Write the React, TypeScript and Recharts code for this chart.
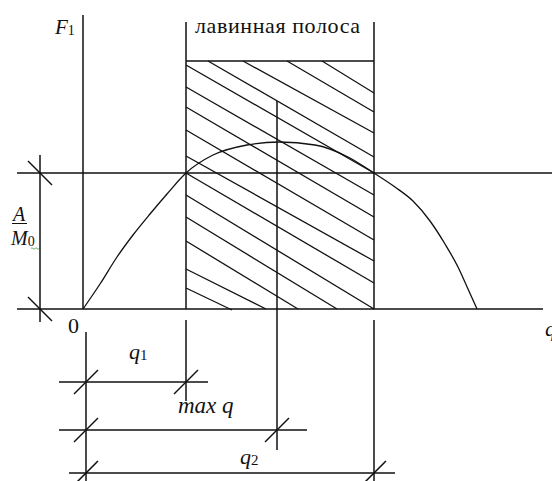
import React from 'react';
import { ComposedChart, Line, XAxis, YAxis, ReferenceLine, ReferenceDot } from 'recharts';

// units: q along the horizontal axis, F along the vertical one (0 at the origin)
const curveQ = [0, 1.7, 3.4, 5.0, 6.7, 8.4, 10.3, 13.0, 16.4, 19.6, 23.2, 26.5, 29.1, 31.2, 33.0, 34.7, 36.2, 37.5, 38.5, 39.4];
const curveF = [0, 2.5, 5.2, 7.4, 9.5, 11.5, 13.6, 15.4, 16.4, 16.7, 16.4, 15.2, 13.6, 12.2, 10.8, 8.8, 6.5, 4.2, 2.0, 0];

const q1 = 10.3;
const qMax = 19.4;
const q2 = 29.1;
const levelA = 13.6; // A / M0
const bandTop = 24.8;
const bandTitle = 'лавинная полоса';
const qLabels = ['q', '1', 'max q', '2'];

// hatching inside the avalanche band: start / end points [q, F]
const hatchFrom = [
  [23.9, 24.8], [20.4, 24.8], [16.0, 24.8], [12.5, 24.8],
  [10.3, 24.4], [10.3, 22.2], [10.3, 20.2], [10.3, 17.9], [10.3, 15.3],
  [10.3, 13.6], [10.3, 11.4], [10.3, 9.2], [10.3, 6.8], [10.3, 4.0], [10.3, 2.1],
];
const hatchTo = [
  [29.1, 21.6], [29.1, 19.7], [29.1, 17.6], [29.1, 15.2],
  [29.1, 13.6], [29.1, 11.4], [29.1, 9.2], [29.1, 6.9], [29.1, 4.8],
  [29.1, 2.6], [29.1, 0], [25.4, 0], [21.5, 0], [18.3, 0], [14.9, -0.1],
];

// dimension lines under the axis: level, from, to, measured value
const dimLevel = [-7.3, -12.1, -16.4];
const dimFrom = [-2.4, -2.4, -1.4];
const dimTo = [12.5, 22.4, 31.2];
const dimValue = [q1, qMax, q2];
const dimZero = 0.3;

const curveData = curveQ.map((q, i) => ({ q, F: curveF[i] }));

const INK = '#111';
const SERIF = 'Liberation Serif';
const TICK = 12;

const seg = (x1: number, y1: number, x2: number, y2: number, key: string, w = 1.5) => (
  <ReferenceLine
    key={key}
    segment={[{ x: x1, y: y1 }, { x: x2, y: y2 }]}
    stroke={INK}
    strokeWidth={w}
    ifOverflow="visible"
  />
);

const slash = (dir: number) => (p: any) => (
  <line
    x1={p.cx - TICK}
    y1={p.cy + dir * TICK}
    x2={p.cx + TICK}
    y2={p.cy - dir * TICK}
    stroke={INK}
    strokeWidth={1.5}
  />
);

const text = (render: (x: number, y: number) => React.ReactElement) => (p: any) => (
  <g style={{ fontFamily: SERIF }}>{render(p.cx, p.cy)}</g>
);

export default function App() {
  return (
    <div style={{ position: 'absolute', left: 0, top: 0, width: 552, height: 481, background: '#fff', fontFamily: SERIF }}>
      <ComposedChart width={552} height={481} data={curveData} margin={{ top: 0, right: 0, bottom: 0, left: 0 }}>
        <XAxis dataKey="q" type="number" domain={[-8.3, 46.9]} hide allowDataOverflow />
        <YAxis type="number" domain={[-17.2, 30.9]} hide allowDataOverflow />

        {/* axes and the A/M0 level */}
        {seg(0, 0, 0, 29.4, 'fAxis')}
        {seg(-6.6, 0, 46.0, 0, 'qAxis')}
        {seg(-6.6, levelA, 46.9, levelA, 'level')}
        {seg(-4.3, 15.4, -4.3, -1.3, 'dimA')}

        {/* avalanche band */}
        {seg(q1, 28.7, q1, 0, 'bandL')}
        {seg(q2, 28.7, q2, 0, 'bandR')}
        {seg(q1, bandTop, q2, bandTop, 'bandTop')}
        {seg(qMax, 20.8, qMax, -14.1, 'maxLine')}
        {hatchFrom.map((a, i) => seg(a[0], a[1], hatchTo[i][0], hatchTo[i][1], 'h' + i, 1.3))}

        {/* extension lines */}
        {seg(dimZero, -2.3, dimZero, -17.2, 'ext0')}
        {seg(q1, -1.1, q1, -9.2, 'ext1')}
        {seg(q2, -1.1, q2, -17.2, 'ext2')}
        {dimLevel.map((lv, i) => seg(dimFrom[i], lv, dimTo[i], lv, 'd' + i))}

        {/* ticks */}
        <ReferenceDot x={-4.3} y={levelA} ifOverflow="visible" shape={slash(-1)} />
        <ReferenceDot x={-4.3} y={0} ifOverflow="visible" shape={slash(-1)} />
        {dimLevel.map((lv, i) => (
          <ReferenceDot key={'t0' + i} x={dimZero} y={lv} ifOverflow="visible" shape={slash(1)} />
        ))}
        {dimLevel.map((lv, i) => (
          <ReferenceDot key={'t1' + i} x={dimValue[i]} y={lv} ifOverflow="visible" shape={slash(1)} />
        ))}

        <Line
          dataKey="F"
          type="monotone"
          stroke={INK}
          strokeWidth={1.3}
          dot={false}
          activeDot={false}
          isAnimationActive={false}
        />

        {/* texts */}
        <ReferenceDot x={11.2} y={27.6} ifOverflow="visible" shape={text((x, y) => (
          <text x={x} y={y} fontFamily={SERIF} fontSize={22} letterSpacing={0.6} fill={INK}>{bandTitle}</text>
        ))} />
        <ReferenceDot x={-2.8} y={27.5} ifOverflow="visible" shape={text((x, y) => (
          <text x={x} y={y} fontFamily={SERIF} fontSize={21} fill={INK}>
            <tspan fontStyle="italic">F</tspan>
            <tspan fontSize={14} dy={1}>1</tspan>
          </text>
        ))} />
        <ReferenceDot x={-1.5} y={-2.4} ifOverflow="visible" shape={text((x, y) => (
          <text x={x} y={y} fontFamily={SERIF} fontSize={22} fill={INK}>0</text>
        ))} />
        <ReferenceDot x={46.2} y={-2.7} ifOverflow="visible" shape={text((x, y) => (
          <text x={x} y={y} fontFamily={SERIF} fontSize={22} fontStyle="italic" fill={INK}>q</text>
        ))} />
        <ReferenceDot x={-7.0} y={8.8} ifOverflow="visible" shape={text((x, y) => (
          <g>
            <text x={x} y={y} fontFamily={SERIF} fontSize={20} fontStyle="italic" fill={INK}>A</text>
            <line x1={x - 1} y1={y + 2.5} x2={x + 14} y2={y + 2.5} stroke={INK} strokeWidth={1} />
          </g>
        ))} />
        <ReferenceDot x={-7.2} y={6.4} ifOverflow="visible" shape={text((x, y) => (
          <g>
            <text x={x} y={y} fontFamily={SERIF} fontSize={20} fill={INK}>
              <tspan fontStyle="italic">M</tspan>
              <tspan fontSize={14} dy={1}>0</tspan>
            </text>
            <path
              d={`M${x + 20} ${y + 3.5} q1 -1.5 2 0 t2 0 t2 0 t2 0`}
              fill="none"
              stroke="#3a9a3a"
              strokeWidth={0.8}
            />
          </g>
        ))} />
        <ReferenceDot x={4.6} y={-5.0} ifOverflow="visible" shape={text((x, y) => (
          <text x={x} y={y} fontFamily={SERIF} fontSize={22} fill={INK}>
            <tspan fontStyle="italic">{qLabels[0]}</tspan>
            <tspan fontSize={15} dy={1}>{qLabels[1]}</tspan>
          </text>
        ))} />
        <ReferenceDot x={9.5} y={-10.4} ifOverflow="visible" shape={text((x, y) => (
          <text x={x} y={y} fontFamily={SERIF} fontSize={23} fontStyle="italic" fill={INK}>{qLabels[2]}</text>
        ))} />
        <ReferenceDot x={15.7} y={-15.5} ifOverflow="visible" shape={text((x, y) => (
          <text x={x} y={y} fontFamily={SERIF} fontSize={22} fill={INK}>
            <tspan fontStyle="italic">{qLabels[0]}</tspan>
            <tspan fontSize={15} dy={1}>{qLabels[3]}</tspan>
          </text>
        ))} />
      </ComposedChart>
    </div>
  );
}
